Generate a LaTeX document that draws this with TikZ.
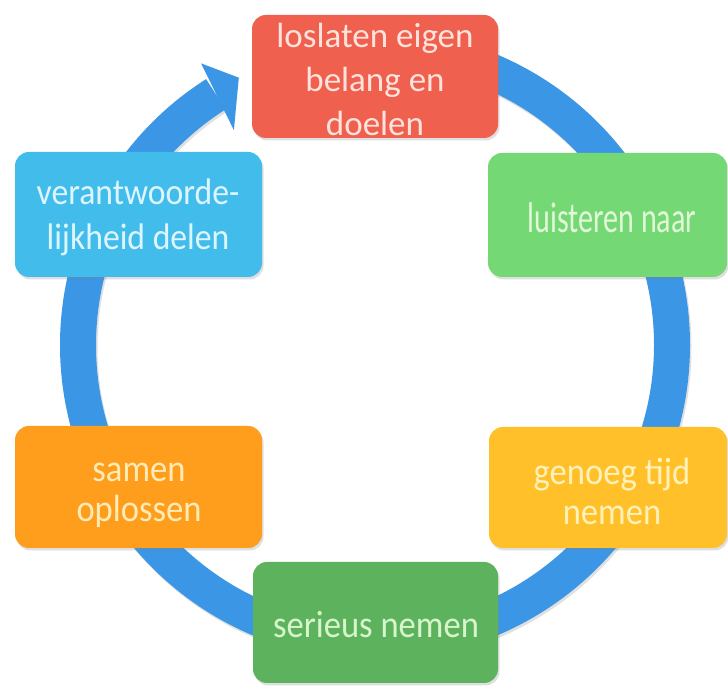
\documentclass[tikz,border=0pt]{standalone}
\usepackage{fontspec}
\setmainfont{Carlito}
\newfontfamily\cfs[FakeStretch=0.91]{Carlito}
\usepackage{graphicx}
\usetikzlibrary{shadows}
\definecolor{ringblue}{HTML}{3B97E6}
\definecolor{cred}{HTML}{F0604E}
\definecolor{cltblue}{HTML}{42BDEB}
\definecolor{cltgreen}{HTML}{74D874}
\definecolor{corange}{HTML}{FF9D1C}
\definecolor{cyellow}{HTML}{FFC02A}
\definecolor{cgreen}{HTML}{5DB35D}
\definecolor{tred}{HTML}{FFE3DC}
\definecolor{tltblue}{HTML}{DDF5FF}
\definecolor{tltgreen}{HTML}{E2F8D8}
\definecolor{torange}{HTML}{FFEBB5}
\definecolor{tyellow}{HTML}{FFF1B8}
\definecolor{tgreen}{HTML}{D8F5CB}
\begin{document}
\begin{tikzpicture}[x=1pt,y=1pt,
  box/.style={rectangle, rounded corners=14pt, inner sep=0pt, draw=none, fill=#1,
    drop shadow={opacity=0.25, shadow xshift=1.5pt, shadow yshift=-2.5pt}},
  txt/.style={inner sep=0pt, align=center, text=#1},
  ringline/.style={line width=36pt, draw=ringblue},
]
\useasboundingbox[fill=white] (0,0) rectangle (728,687);

% ring with arrow
\begin{scope}[shift={(375,342)}]
  \draw[line width=36pt, black, opacity=0.12] (1.5,-2.5) ++(90:297) arc[start angle=90, end angle=-237.6, radius=297];
  \draw[ringline] (90:297) arc[start angle=90, end angle=-237.6, radius=297];
  \fill[ringblue] (121.7:331) -- (117.0:300) -- (123.3:257) -- cycle;
\end{scope}

% boxes
\node[box=cred,     minimum width=246pt, minimum height=123pt] (b1) at (375,610.5) {};
\node[box=cltgreen, minimum width=239pt, minimum height=124pt] (b2) at (607.5,472) {};
\node[box=cyellow,  minimum width=238pt, minimum height=121pt] (b3) at (608,199.5) {};
\node[box=cgreen,   minimum width=245pt, minimum height=121pt] (b4) at (375.5,64.5) {};
\node[box=corange,  minimum width=247pt, minimum height=122pt] (b5) at (138.5,200) {};
\node[box=cltblue,  minimum width=247pt, minimum height=125pt] (b6) at (138.5,472.5) {};

% texts
\node[txt=tred, font=\fontsize{35}{44}\selectfont] (t1) at (375,603.8)
  {\strut loslaten eigen\\\strut belang en\\\strut doelen};
\node[txt=tltgreen, font=\cfs\fontsize{43}{52}\selectfont] (t2) at (612,465)
  {\scalebox{0.77}[1]{\strut luisteren naar}};
\node[txt=tyellow, font=\cfs\fontsize{38}{40}\selectfont] (t3) at (612,190)
  {\strut genoeg tijd\\\strut nemen};
\node[txt=tgreen, font=\cfs\fontsize{38}{44}\selectfont] (t4) at (376,57.8)
  {\strut serieus nemen};
\node[txt=torange, font=\cfs\fontsize{38}{40}\selectfont] (t5) at (139,193)
  {\strut samen\\\strut oplossen};
\node[txt=tltblue, font=\cfs\fontsize{37}{45}\selectfont] (t6) at (138,468.5)
  {\strut verantwoorde-\\\strut lijkheid delen};
\end{tikzpicture}
\end{document}
